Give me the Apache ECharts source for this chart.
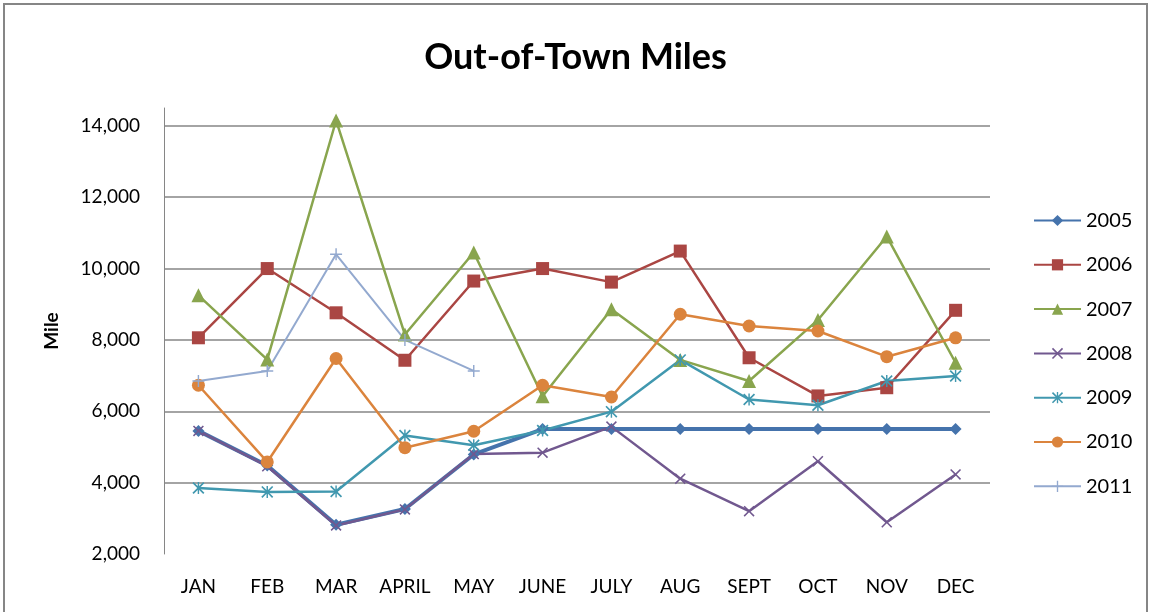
<!DOCTYPE html>
<html>
<head>
<meta charset="utf-8">
<script src="https://cdn.jsdelivr.net/npm/echarts@6/dist/echarts.min.js"></script>
<style>
  html, body { margin: 0; padding: 0; background: #fff; }
  #chart { width: 1151px; height: 612px; }
</style>
</head>
<body>
<div id="chart"></div>
<script>
const months = ['JAN', 'FEB', 'MAR', 'APRIL', 'MAY', 'JUNE', 'JULY', 'AUG', 'SEPT', 'OCT', 'NOV', 'DEC'];
const years = ['2005', '2006', '2007', '2008', '2009', '2010', '2011'];

const miles2005 = [5450, 4480, 2820, 3260, 4790, 5500, 5500, 5500, 5500, 5500, 5500, 5500];
const miles2006 = [8060, 10000, 8760, 7430, 9650, 10000, 9620, 10490, 7500, 6430, 6660, 8830];
const miles2007 = [9250, 7450, 14150, 8150, 10450, 6420, 8860, 7440, 6850, 8560, 10900, 7360];
const miles2008 = [5450, 4460, 2800, 3250, 4800, 4840, 5570, 4110, 3200, 4600, 2890, 4230];
const miles2009 = [3850, 3740, 3750, 5320, 5050, 5460, 5990, 7440, 6330, 6170, 6850, 6990];
const miles2010 = [6730, 4580, 7480, 4980, 5440, 6730, 6400, 8720, 8390, 8250, 7530, 8060];
const miles2011 = [6850, 7130, 10400, 8000, 7130];

const yTicks = [2000, 4000, 6000, 8000, 10000, 12000, 14000];

const font = 'Lato, "Open Sans", sans-serif';

const xMark = 'path://M0,1L1,0L5,4L9,0L10,1L6,5L10,9L9,10L5,6L1,10L0,9L4,5Z';
const starMark = 'path://M0,1L1,0L5,4L9,0L10,1L6,5L10,9L9,10L5,6L1,10L0,9L4,5Z M4.4,0L5.6,0L5.6,10L4.4,10Z';
const plusMark = 'path://M4.4,0L5.6,0L5.6,4.4L10,4.4L10,5.6L5.6,5.6L5.6,10L4.4,10L4.4,5.6L0,5.6L0,4.4L4.4,4.4Z';

const styles = [
  { data: miles2005, color: '#4573AC', symbol: 'diamond', size: 12, width: 4 },
  { data: miles2006, color: '#AA4643', symbol: 'rect', size: 13, width: 2.5 },
  { data: miles2007, color: '#89A54E', symbol: 'triangle', size: 14, width: 2.5 },
  { data: miles2008, color: '#71588F', symbol: xMark, size: 11, width: 2.5 },
  { data: miles2009, color: '#4198AF', symbol: starMark, size: 12, width: 2.5 },
  { data: miles2010, color: '#DB843D', symbol: 'circle', size: 13, width: 2.5 },
  { data: miles2011, color: '#93A9CF', symbol: plusMark, size: 12, width: 2 }
];

const chart = echarts.init(document.getElementById('chart'));

const option = {
  backgroundColor: '#fff',
  animation: false,
  textStyle: { fontFamily: font },
  graphic: [{
    type: 'rect',
    shape: { x: 4, y: 4, width: 1143, height: 640 },
    style: { fill: 'none', stroke: '#868686', lineWidth: 2 },
    silent: true
  }],
  title: {
    text: 'Out-of-Town Miles',
    left: 'center',
    top: 34,
    textStyle: { fontFamily: font, fontSize: 36, fontWeight: 'bold', color: '#000' }
  },
  legend: {
    orient: 'vertical',
    left: 1028,
    top: 205,
    itemWidth: 47,
    itemHeight: 14,
    itemGap: 23.3,
    data: years,
    textStyle: { fontFamily: font, fontSize: 20, color: '#000', lineHeight: 21 }
  },
  grid: { left: 164, right: 161, top: 108, bottom: 58 },
  xAxis: {
    type: 'category',
    data: months,
    boundaryGap: true,
    axisLine: { show: false },
    axisTick: { show: false },
    axisLabel: { color: '#000', fontFamily: font, fontSize: 19, margin: 23 }
  },
  yAxis: {
    type: 'value',
    min: 2000,
    max: 14500,
    interval: 2000,
    name: 'Mile',
    nameLocation: 'middle',
    nameGap: 103,
    nameTextStyle: { color: '#000', fontFamily: font, fontSize: 19, fontWeight: 'bold' },
    axisLine: { show: true, lineStyle: { color: '#868686', width: 1 } },
    axisTick: { show: false },
    splitLine: { showMaxLine: false, showMinLine: false, lineStyle: { color: '#868686', width: 1.5 } },
    axisLabel: {
      color: '#000',
      fontFamily: font,
      fontSize: 19,
      margin: 24,
      showMaxLabel: false,
      formatter: v => yTicks.includes(v) ? v.toLocaleString('en-US') : ''
    }
  },
  series: styles.map((s, i) => ({
    name: years[i],
    type: 'line',
    data: s.data,
    symbol: s.symbol,
    symbolSize: s.size,
    showAllSymbol: true,
    itemStyle: { color: s.color },
    lineStyle: { color: s.color, width: s.width }
  }))
};

chart.setOption(option);
</script>
</body>
</html>
